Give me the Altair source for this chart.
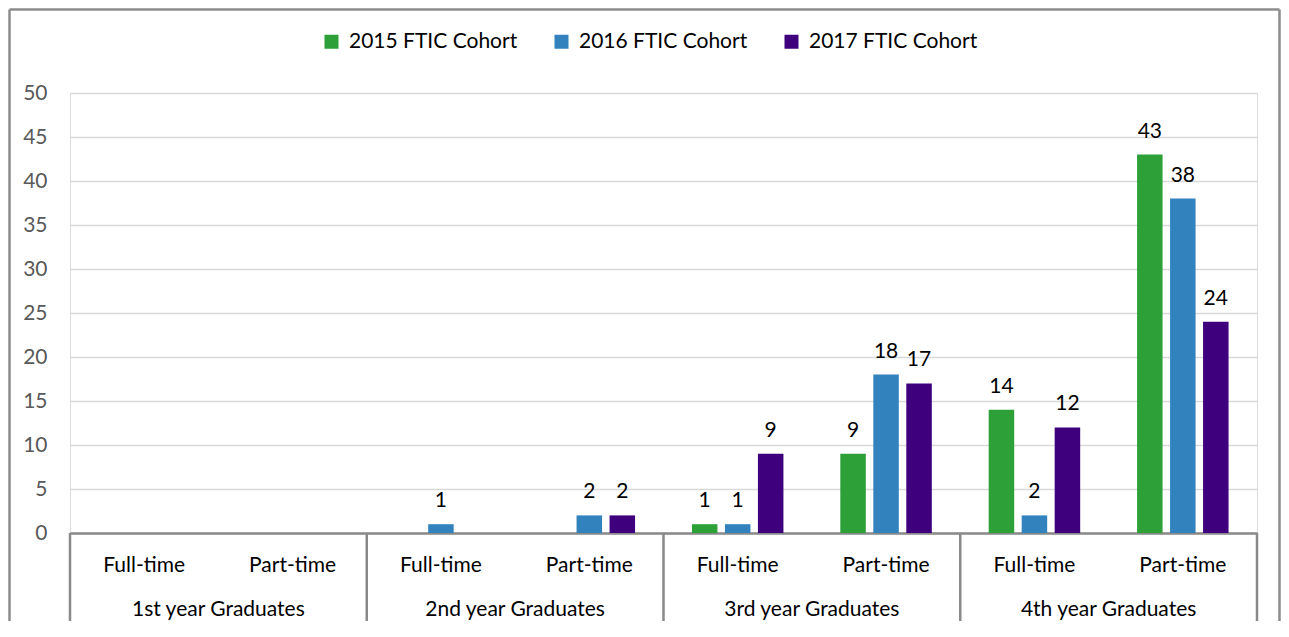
import altair as alt
import pandas as pd

groups = ["1st year Graduates", "2nd year Graduates", "3rd year Graduates", "4th year Graduates"]
subs = ["Full-time", "Part-time"]
cohorts = ["2015 FTIC Cohort", "2016 FTIC Cohort", "2017 FTIC Cohort"]
colors = ["#2ea038", "#3182bd", "#3f007d"]
# values per (group, sub) in order: 1st FT, 1st PT, 2nd FT, 2nd PT, 3rd FT, 3rd PT, 4th FT, 4th PT
v2015 = [None, None, None, None, 1, 9, 14, 43]
v2016 = [None, None, 1, 2, 1, 18, 2, 38]
v2017 = [None, None, None, 2, 9, 17, 12, 24]
y_ticks = [0, 5, 10, 15, 20, 25, 30, 35, 40, 45, 50]

keys = [f"{g}|{s}" for g in groups for s in subs]
rows = []
for c, vals in zip(cohorts, [v2015, v2016, v2017]):
    for k, v in zip(keys, vals):
        if v is not None:
            rows.append(dict(key=k, cohort=c, value=v))
bars_df = pd.DataFrame(rows)
sub_df = pd.DataFrame({"key": keys, "sub": [s for g in groups for s in subs]})
grp_df = pd.DataFrame({"key": [f"{g}|Part-time" for g in groups], "group": groups})
start_df = pd.DataFrame({"key": [f"{g}|Full-time" for g in groups]})
end_df = pd.DataFrame({"key": [keys[-1]]})
one = pd.DataFrame({"a": [0]})

W, H = 1187, 440
FONT = "Lato"
FS = 21

x_scale = alt.Scale(domain=keys, paddingInner=0, paddingOuter=0)
x_axis = alt.Axis(labels=False, ticks=False, title=None, grid=False,
                  domainColor="#898989", domainWidth=2.5)
xoff_scale = alt.Scale(domain=cohorts, paddingInner=0.227, paddingOuter=0.862)
y_scale = alt.Scale(domain=[0, 50])
y_axis = alt.Axis(values=y_ticks, title=None, ticks=False, domain=False, labelPadding=23,
                  gridColor="#d9d9d9", gridWidth=1.5, labelColor="#595959",
                  labelFontSize=FS, labelFont=FONT)


def xenc(**kw):
    return alt.X("key:N", scale=x_scale, axis=x_axis, **kw)


bars = alt.Chart(bars_df).mark_bar().encode(
    x=xenc(),
    xOffset=alt.XOffset("cohort:N", scale=xoff_scale),
    y=alt.Y("value:Q", scale=y_scale, axis=y_axis),
    color=alt.Color("cohort:N", scale=alt.Scale(domain=cohorts, range=colors),
                    legend=alt.Legend(orient="none", legendX=251, legendY=-62,
                                      direction="horizontal", title=None,
                                      symbolType="square", symbolSize=196,
                                      symbolStrokeWidth=0, labelFontSize=FS,
                                      labelFont=FONT, labelColor="black",
                                      labelOffset=7, labelLimit=0,
                                      columnPadding=33, padding=0)),
)

labels = alt.Chart(bars_df).mark_text(dy=-17, baseline="alphabetic", fontSize=FS,
                                      font=FONT, color="black").encode(
    x=xenc(),
    xOffset=alt.XOffset("cohort:N", scale=xoff_scale),
    y=alt.Y("value:Q", scale=y_scale, axis=y_axis),
    text="value:Q",
)

sub_text = alt.Chart(sub_df).mark_text(baseline="alphabetic", fontSize=FS, font=FONT,
                                       color="black").encode(
    x=xenc(), y=alt.value(479), text="sub:N")

grp_text = alt.Chart(grp_df).mark_text(baseline="alphabetic", fontSize=FS, font=FONT,
                                       color="black").encode(
    x=xenc(bandPosition=0), y=alt.value(523), text="group:N")

sep_start = alt.Chart(start_df).mark_rule(color="#898989", strokeWidth=2.5).encode(
    x=xenc(bandPosition=0), y=alt.value(H), y2=alt.value(H + 88))
sep_end = alt.Chart(end_df).mark_rule(color="#898989", strokeWidth=2.5).encode(
    x=xenc(bandPosition=1), y=alt.value(H), y2=alt.value(H + 88))

frame_l = alt.Chart(one).mark_rule(color="#8c8c8c", strokeWidth=2.5).encode(
    x=alt.value(-60.5), y=alt.value(-83.5), y2=alt.value(H + 88))
frame_t = alt.Chart(one).mark_rule(color="#8c8c8c", strokeWidth=2.5).encode(
    x=alt.value(-60.5), x2=alt.value(W + 22.5), y=alt.value(-83.5))
frame_r = alt.Chart(one).mark_rule(color="#8c8c8c", strokeWidth=2.5).encode(
    x=alt.value(W + 22.5), y=alt.value(-83.5), y2=alt.value(H + 88))

chart = alt.layer(bars, labels, sub_text, grp_text, sep_start, sep_end,
                  frame_l, frame_t, frame_r).properties(
    width=W, height=H,
    autosize=alt.AutoSizeParams(type="none"),
    padding={"left": 62, "top": 85, "right": 24, "bottom": 88},
    background="white",
).configure_view(stroke=None).configure(font=FONT)

chart.save("out.html", embed_options={"renderer": "svg", "actions": False})
